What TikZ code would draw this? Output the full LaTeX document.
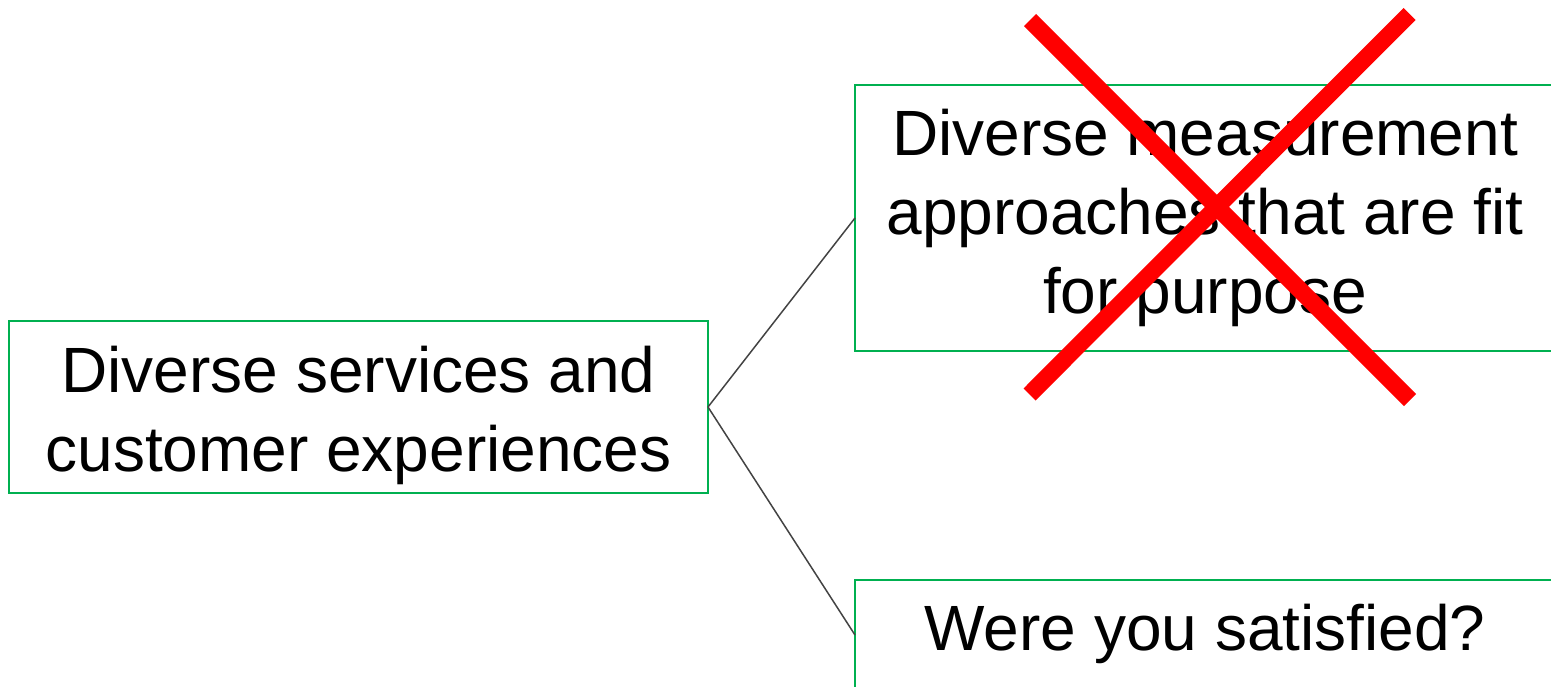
\documentclass[tikz,border=0pt]{standalone}
\usepackage{fontspec}
\setmainfont{Liberation Sans}
\definecolor{boxgreen}{RGB}{0,176,80}
\definecolor{linkgray}{RGB}{67,67,67}
\definecolor{crossred}{RGB}{255,0,0}
\tikzset{
	topic/.style={draw=boxgreen,line width=1pt,inner sep=0,outer sep=0},
	caption/.style={align=center,inner sep=0,font=\fontsize{32}{39.5}\selectfont},
	link/.style={draw=linkgray,line width=0.75pt},
	strike/.style={draw=crossred,line width=8.5pt}
}

\begin{document}
\begin{tikzpicture}[x=0.5pt,y=-0.5pt]
	\useasboundingbox (0,0) rectangle (1551,686);
	\clip (0,0) rectangle (1551,686);
	\node[topic,minimum width=349.5pt,minimum height=86pt] (services) at (358.5,407) {};
	\node[topic,minimum width=350pt,minimum height=133pt] (approaches) at (1205,218) {};
	\node[topic,minimum width=350pt,minimum height=55pt] (satisfied) at (1205,635) {};
	\node[caption] (servicestext) at ([yshift=-4pt]services.center) {Diverse services and\\customer experiences};
	\node[caption] (approachestext) at (approaches.center) {Diverse measurement\\approaches that are fit\\for purpose};
	\node[caption] (question) at (1205,634) {Were you satisfied?};
	\draw[link] (services.east) -- (approaches.west);
	\draw[link] (services.east) -- (satisfied.west);
	% the cross over the top box
	\coordinate (c1) at (1030,20);
	\coordinate (c2) at (1410,400);
	\coordinate (c3) at (1409.5,14);
	\coordinate (c4) at (1029.5,394.5);
	\draw[strike] (c1) -- (c2);
	\draw[strike] (c3) -- (c4);
\end{tikzpicture}
\end{document}
